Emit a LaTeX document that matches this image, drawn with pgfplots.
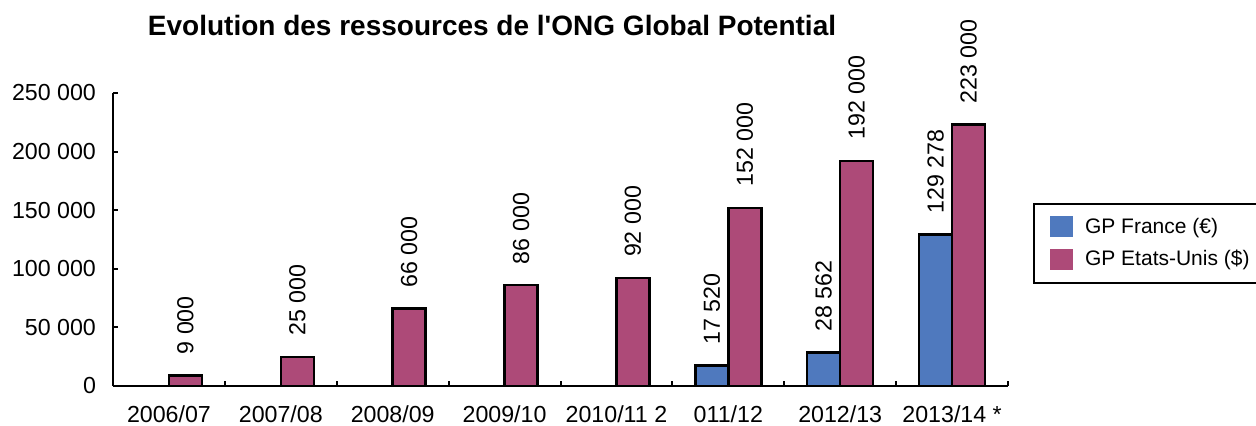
\documentclass[border=0pt]{standalone}
\usepackage{pgfplots}
\pgfplotsset{compat=1.18}
\usepackage{fontspec}
\setmainfont{Liberation Sans}[Ligatures=TeXOff]
\definecolor{gpblue}{RGB}{79,121,190}
\definecolor{gpmag}{RGB}{173,74,120}
\begin{document}
\begin{tikzpicture}
\begin{axis}[
  scale only axis,
  width=447.5pt, height=146.5pt,
  at={(0,0)}, anchor=south west,
  ybar=0pt, bar width=16.5pt,
  xmin=-0.5, xmax=7.5,
  ymin=0, ymax=250000,
  enlargelimits=false,
  axis x line=bottom, axis y line=left,
  axis line style={-, line width=1pt},
  tick align=inside,
  ytick={0,50000,100000,150000,200000,250000},
  major tick length=2.5pt,
  tick style={line width=1pt, black},
  xtick={-0.5,0.5,1.5,2.5,3.5,4.5,5.5,6.5,7.5},
  xticklabels={},
  extra x ticks={0,1,2,3,4,5,6,7},
  extra x tick labels={2006/07,2007/08,2008/09,2009/10,{2010/11 2},011/12,2012/13,{2013/14 *}},
  extra x tick style={major tick length=0pt, xticklabel style={yshift=-6.5pt}},
  scaled y ticks=false,
  /pgf/number format/.cd, 1000 sep={\ }, fixed, precision=0, assume math mode=true,
  /pgfplots/.cd,
  tick label style={font=\fontsize{11.6}{13}\selectfont},
  yticklabel style={xshift=-5pt},
  title={Evolution des ressources de l'ONG Global Potential},
  title style={at={(0.4235,1.19)}, anchor=center, font=\bfseries\fontsize{14}{16}\selectfont},
  nodes near coords,
  every node near coord/.append style={rotate=90, anchor=west, inner xsep=10pt, inner ysep=0pt, font=\fontsize{11.6}{13}\selectfont, black},
  legend style={at={(1.028,0.625)}, anchor=north west, draw=black, line width=1pt,
    font=\fontsize{10.5}{12}\selectfont, row sep=3pt, inner xsep=8pt, inner ysep=5pt},
  legend cell align=left,
  legend image code/.code={\path[draw=none, fill=none] (0pt,0pt) -- (15.5pt,0pt); \fill[#1, draw=none] (0pt,-5.25pt) rectangle (11.5pt,5.25pt);},
]
\addplot[fill=gpblue, draw=black, line width=1.2pt] coordinates {(5,17520) (6,28562) (7,129278)};
\addplot[fill=gpmag, draw=black, line width=1.2pt] coordinates {(0,9000) (1,25000) (2,66000) (3,86000) (4,92000) (5,152000) (6,192000) (7,223000)};
\legend{GP France (€),GP Etats-Unis (\$)}
\end{axis}
\pgfresetboundingbox
\path (-56.5pt,-19.5pt) rectangle (571.5pt,193pt);
\end{tikzpicture}
\end{document}
